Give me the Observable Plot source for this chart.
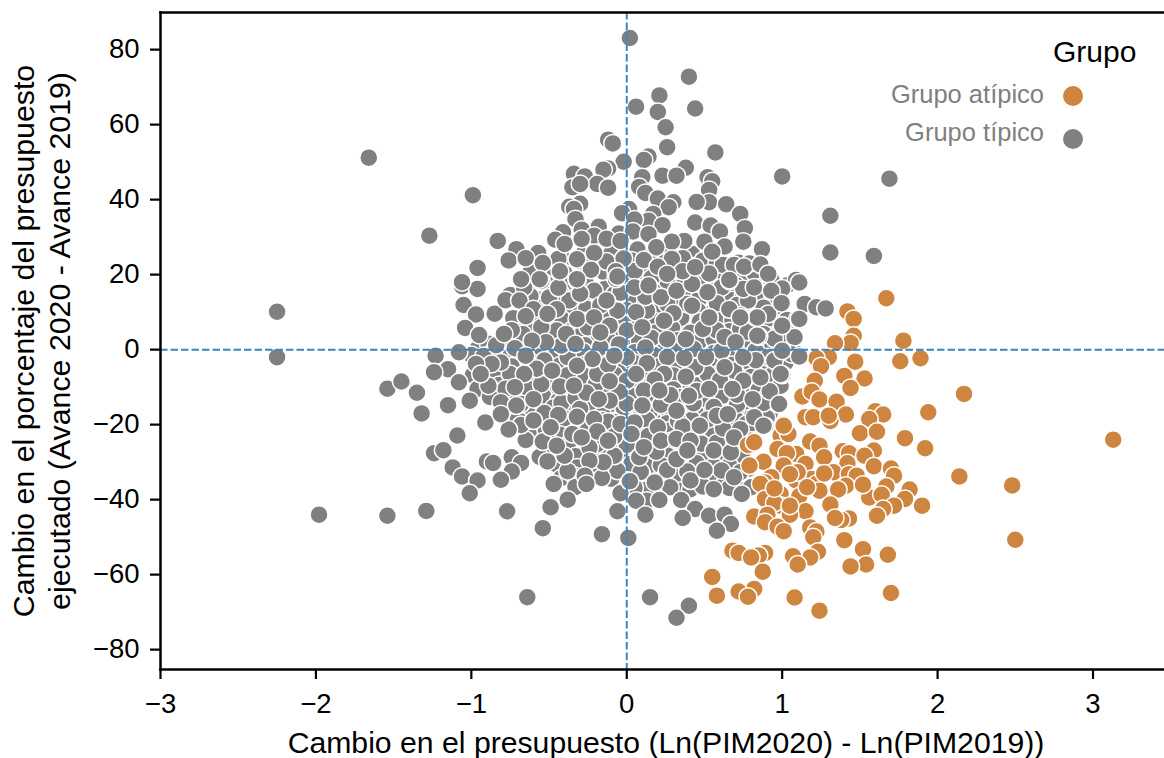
<!DOCTYPE html>
<html><head><meta charset="utf-8">
<script src="https://cdn.jsdelivr.net/npm/d3@7"></script>
<script src="https://cdn.jsdelivr.net/npm/@observablehq/plot@0.6"></script>
<style>
html,body{margin:0;padding:0;background:#fff;overflow:hidden}
#wrap{position:relative;width:1164px;height:758px;font-family:"Liberation Sans",Arial,sans-serif}
.lg{position:absolute;white-space:nowrap}
.lt{color:#7f7f7f;font-size:25.5px;right:120px}
.ld{width:20px;height:20px;border-radius:50%;left:1063px}
</style></head><body><div id="wrap"></div>
<script>
const groupNames = ["Grupo atípico", "Grupo típico"];
const groupColors = ["#cd853f", "#808080"];
const xLabel = "Cambio en el presupuesto (Ln(PIM2020) - Ln(PIM2019))";
const yLabel = "Cambio en el porcentaje del presupuesto\nejecutado (Avance 2020 - Avance 2019)";
const xTicks = [-3,-2,-1,0,1,2,3];
const yTicks = [-80,-60,-40,-20,0,20,40,60,80];

const tipicoExterior = [[-2.25,10.1],[-2.25,-2],[-1.66,51.2],[-1.54,-10.4],[-1.45,-8.5],[-1.35,-11.5],[-1.32,-17],[-1.98,-44],[-1.54,-44.3],[-1.29,-43],[-0.64,-66],[0.15,-66],[0.40,-68.3],[0.32,-71.5],[1.31,35.7],[1.69,45.6],[1.31,25.9],[1.59,25],[1.0,46.2],[1.11,17.9],[1.0,16.3],[0.93,15.7],[1.145,12.2],[1.22,11.3],[1.28,11],[1.11,8.2],[1.0,6.4],[0.996,12.4],[1.11,-1.8],[0.99,-6.5],[0.98,-14.5],[0.88,-20.3],[0.74,-38.5],[0.67,-46.5],[0.58,-48.3],[0.84,3.7],[0.84,8.6],[0.66,10.8],[0.53,8.6],[0.73,8.6]];

const tipicoSuperior = [[0.02,83.1],[0.40,72.8],[0.21,67.8],[0.06,64.8],[0.44,64.3],[0.20,63.4],[0.25,59.3],[-0.12,56],[-0.09,55],[0.26,54],[0.57,52.6],[0.14,51.5],[0.11,50.6],[-0.02,50.1],[0.38,48.5],[-0.12,48.3],[-0.15,48],[-0.34,46.9],[-0.27,46.2],[0.23,46.4],[0.32,46.4],[0.10,46],[0.52,46],[0.55,44.9],[-0.19,44.2],[-0.12,43.2],[-0.35,43.3],[-0.30,44.2],[0.08,43.4],[0.53,42.6],[0.12,41.8],[-0.99,41.2],[0.20,40.3],[0.53,39.3],[0.45,39.4],[0.30,39.3],[0.27,38],[0.64,38.8],[-0.30,38.9],[-0.37,38.1],[-0.34,37.5],[0.015,37.5],[-0.03,36.4],[0.73,36.2],[0.17,36.2],[0.14,34.4],[-0.33,34.8],[0.05,34.7],[0.44,33.9],[0.23,33.2],[0.54,33.1],[-0.18,32.8],[0.76,32.4],[0.60,31.5],[-0.29,32],[-0.41,31.3],[-0.05,31],[0.04,31.5],[0.14,30.8],[-1.27,30.4],[-0.21,30.4],[-0.13,29.6],[-0.83,29],[-0.46,29.3],[0.37,29],[0.29,28.8],[-0.04,29],[0.50,28.8],[0.75,28.8],[-0.40,28.2],[-0.29,29.5],[0.63,27.5],[-0.71,26.8],[0.87,26.8],[0.19,27.3],[0.55,26.1],[-0.21,25.8],[-0.57,25.8],[-0.76,23.8],[-0.65,24.4],[-0.32,24.1],[-0.02,24.3],[0.11,23.9],[0.36,24.4],[0.29,24.2],[-0.54,23.1],[0.69,22.6],[0.79,23],[0.755,22.1],[0.86,22.7],[-0.96,21.8],[-0.43,20.9],[-0.23,21.3],[0.20,22.1],[-0.07,20.9],[0.53,20.3],[0.36,20.9],[0.26,20.2],[0.44,22],[-0.68,18.8],[-0.56,18.8],[-0.32,18.8],[-1.06,18],[-0.06,19.5],[0.93,18.6],[1.09,18.6],[0.91,20.2],[0.66,18.6]];

const tipicoCentro = [[-1.06,16.9],[-0.96,16.2],[-1.05,11.9],[-0.97,9.4],[-1.04,5.8],[-0.95,3.9],[-0.78,13.2],[-0.66,16.6],[-0.69,13.1],[-0.60,10.8],[-0.55,18.4],[-0.44,16.5],[-0.32,18.4],[-0.30,14.9],[-0.45,10.8],[-0.65,8.9],[-0.74,5.2],[-0.79,4.2],[-0.51,9.5],[-0.32,8.2],[-0.21,8.6],[-0.13,13.1],[-0.07,18.9],[0.05,16.6],[0.22,14],[0.32,15.7],[0.14,17.1],[0.06,10],[-0.11,6.4],[-0.17,4.6],[-0.39,4.2],[-0.52,2],[-0.61,2.4],[-0.33,1.5],[0.24,7.7],[0.38,2.8],[0.42,11.7],[0.52,15.3],[0.53,8.6],[0.66,10.8],[0.82,16.6],[0.93,17.5],[1.03,17.1],[0.66,18.4],[0.42,17.5],[1.0,12.6],[0.73,9.1],[0.83,8.6],[0.85,3.5],[1.0,6.4],[1.10,8.2],[0.70,2],[0.49,5.5],[0.12,0.6],[0.10,6],[0.26,2.8],[-0.08,-1.6],[-0.22,-2.5],[-0.32,-4.3],[-0.48,-5.6],[-0.65,-1.6],[-0.81,-3.4],[-0.87,-3.8],[-0.97,-3.8],[-1.08,-0.7],[-1.23,-1.6],[-1.15,-5.2],[-1.24,-6],[-1.08,-8.7],[-1.44,-8.7],[-1.35,-11.4],[-1.15,-14.8],[-1.01,-13.6],[-1.32,-17.2],[-0.91,-19.4],[-1.09,-22.9],[-1.24,-27.6],[-1.18,-26.8],[-1.12,-31.4],[-1.06,-33.8],[-0.96,-34.9],[-1.01,-38.3],[-0.77,-43.1],[-0.90,-29.8],[-0.86,-30.2],[-0.74,-28.7],[-0.68,-30.2],[-0.74,-32.5],[-0.81,-34.7],[-0.51,-29.8],[-0.47,-35.8],[-0.38,-40],[-0.49,-42],[-0.54,-47.6],[-0.16,-49.2],[0.01,-50.2],[-0.06,-43.1],[-0.04,-38.3],[0.02,-35.1],[0.13,-40.3],[0.21,-40.1],[0.06,-40.3],[0.12,-44],[0.35,-40.1],[0.44,-42.5],[0.36,-44.9],[0.53,-44.3],[0.63,-44],[0.56,-37.2],[0.41,-34.9],[0.18,-35.4],[0.75,-38.5],[0.80,-36.7],[0.69,-34],[0.50,-32.1],[0.32,-29.2],[0.19,-27.2],[0.08,-28.7],[-0.08,-28.3],[-0.15,-30],[-0.24,-29.6],[-0.38,-32.4],[-0.27,-33.6],[-0.26,-35.8],[-0.40,-28.3],[-0.35,-22.5],[-0.54,-24.5],[-0.68,-20.1],[-0.76,-21.3],[-0.53,-16.9],[-0.44,-17.4],[-0.32,-17.9],[-0.21,-18.5],[-0.19,-21.8],[-0.04,-19.8],[0.05,-19.4],[0.03,-22.5],[0.20,-20.7],[0.47,-20.3],[0.56,-26.9],[0.67,-27.4],[0.58,-17.6],[0.73,-21.2],[0.89,-20.4],[0.82,-18],[0.98,-14.5],[0.92,-11.1],[1.0,-6.7],[0.81,-13.2],[0.75,-8.3],[0.86,-7.4],[0.63,-4.7],[0.83,-2.8],[0.95,-2.9],[1.06,-1.2],[1.0,-0.3],[0.75,-2],[0.51,-2],[0.37,-2.2],[0.13,-3.6],[0.06,-6.5],[-0.11,-8.4],[-0.26,-11.5],[-0.43,-9.8],[-0.66,-6.5],[-0.81,-14],[-0.71,-14.9],[-0.60,-13.2],[-0.11,-13.6],[-0.18,-13.2],[-0.34,-9.6],[0.11,-10.9],[0.21,-10.9],[0.10,-14.9],[0.32,-16.3],[0.40,-12.3],[0.53,-10.5],[0.38,-7.2],[0.68,-10.5],[0.22,-24.3],[0.32,-23.8],[0.41,-24.3],[0.65,-17.2],[0.69,-23.4],[0.39,-26.9],[-0.81,-17.2],[-0.89,-9.6],[-0.94,-6.5],[-0.72,-10],[-0.60,-18.9],[-0.49,-20.7],[-0.45,-25.6],[-0.29,-23.4],[-0.12,-24.3],[0.11,-26]];

const tipicoRelleno = [[-0.21,15.7],[-0.06,10.4],[0.26,18.4],[0.39,12.2],[0.61,16.6],[0.78,13.1],[0.91,9.5],[0.58,5.1],[0.26,12.2],[0.13,10.4],[0,5.1],[-0.25,6],[-0.45,5.1],[-0.55,6],[-0.67,4.2],[-0.17,0.6],[0,-2],[0.26,-2],[0.61,-0.3],[0.91,-2],[1.08,3.3],[-0.38,-2],[-0.53,-2.9],[-0.75,-6.5],[-0.55,-9.2],[-0.19,-6.5],[0,-8.3],[0.24,-6.5],[0.52,-6.5],[0.69,-5.6],[-0.68,-14.5],[-0.42,-14.2],[-0.25,-14.8],[0,-14.4],[0.22,-14.7],[0.43,-14.3],[0.71,-14.6],[0.88,-14.2],[-0.49,-18.9],[-0.12,-19.2],[0.13,-18.7],[0.33,-19],[0.52,-18.6],[-0.19,-25.2],[0,-25.4],[0.48,-25.1],[0.58,-24.8],[-0.06,-32.3],[0.09,-32.6],[0.26,-32.1],[0.39,-32.5],[0.61,-32.2],[0.73,-32.7],[0.28,-36.7],[0.49,-36.5],[0.66,-36.9],[0.05,-36.8],[-0.16,-34.2],[-0.33,-12.8],[-0.78,-10.4],[-0.92,-1.7],[-0.84,1.2],[-0.72,0.4],[-0.42,1.1],[-0.05,1.4],[0.16,3.1],[0.43,0.2],[0.63,3.4],[0.78,4.7],[0.95,2.9],[0.3,9.7],[0.12,14.1],[-0.04,15.2],[-0.17,11.8],[-0.37,13.1],[-0.5,13.9],[-0.62,14.3],[-0.85,9.6],[0.58,12.4],[0.48,17.4],[0.75,16.2],[-0.13,23.5],[0.05,21],[0.62,22.6],[0.16,19.1],[-0.44,24.2],[-0.12,-4],[0.18,-8],[0.44,-4.7],[0.6,-8.2],[0.71,-12],[0.45,-11],[0.28,-12.1],[-0.05,-11.2],[-0.38,-6.8],[-0.58,-5.1],[-0.3,-15.8],[-0.65,-24.1],[-0.56,-28.6],[-0.24,-26.1],[-0.08,-23.1],[0.14,-23],[0.62,-21],[0.36,-20.5],[0.8,-24.3]];

const tipicoFondo = [[-0.27,26.4],[-0.1,25.6],[0.07,26.7],[0.17,25.3],[0.27,26.1],[0.42,25.5],[0.6,26.6],
[-0.5,22.4],[-0.37,23.6],[-0.27,22.7],[-0.17,23.3],[-0.08,22.2],[0.03,23.8],[0.16,22.8],[0.25,23.4],[0.41,22.3],[0.49,23.7],[0.58,22.9],[0.72,23.2],
[-0.62,20.6],[-0.5,19.4],[-0.4,20.3],[-0.28,19.2],[-0.15,20.8],[-0.03,19.7],[0.1,20.4],[0.22,19.1],[0.31,20.6],[0.45,19.6],[0.6,20.2],[0.73,19.3],[0.82,20.5],
[-0.6,16.4],[-0.52,17.6],[-0.37,16.9],[-0.26,17.4],[-0.14,16.2],[-0.01,17.5],[0.09,16.3],[0.2,17.2],[0.35,16.7],[0.46,17.8],[0.57,16.1],[0.7,17.3],[0.86,16.6],
[-0.75,14.6],[-0.58,13.5],[-0.42,14.8],[-0.34,13.7],[-0.26,14.4],[-0.17,13.3],[-0.08,14.7],[0.03,13.6],[0.17,14.5],[0.29,13.4],[0.36,14.9],[0.47,13.8],[0.56,14.3],[0.68,13.2],[0.75,14.6],[0.85,13.9],[0.94,14.2],
[-0.63,10.6],[-0.53,11.7],[-0.42,10.4],[-0.34,11.3],[-0.26,10.9],[-0.1,11.8],[0,10.5],[0.11,11.4],[0.21,10.7],[0.33,11.6],[0.46,10.3],[0.6,11.1],[0.71,11.9],[0.8,10.6],[0.88,11.2],
[-0.73,8.4],[-0.58,7.4],[-0.42,8.2],[-0.27,7.6],[-0.14,8.7],[-0.04,7.3],[0.06,8.1],[0.17,7.7],[0.35,8.5],[0.47,7.5],[0.6,8.3],[0.68,7.8],[0.78,7.2],[0.92,8.4],[1.03,7.9],
[-0.7,4.7],[-0.62,5.6],[-0.5,4.4],[-0.35,5.3],[-0.28,4.8],[-0.19,5.7],[-0.07,4.3],[0.05,5.4],[0.19,4.6],[0.29,5.8],[0.41,4.5],[0.53,5.2],[0.66,4.9],[0.73,5.5],[0.88,4.2],[1.02,5.1],
[-0.89,1.6],[-0.78,2.4],[-0.66,1.3],[-0.56,2.7],[-0.46,1.8],[-0.38,2.2],[-0.27,1.2],[-0.12,2.6],[-0.02,1.7],[0.08,2.3],[0.2,1.4],[0.33,2.5],[0.46,1.9],[0.56,2.8],[0.66,1.5],[0.8,2.1],[0.92,1.1],[1.04,2.4],
[-1.0,-1.4],[-0.86,-0.6],[-0.75,-1.8],[-0.57,-0.8],[-0.45,-1.2],[-0.28,-0.5],[-0.14,-1.6],[0.05,-0.7],[0.17,-1.3],[0.32,-0.4],[0.46,-1.7],[0.56,-0.9],[0.67,-1.1],[0.83,-0.3],[0.97,-1.5],[1.08,-0.8],
[-0.92,-3.6],[-0.74,-4.5],[-0.62,-3.3],[-0.43,-4.2],[-0.26,-3.8],[-0.05,-4.7],[0.04,-3.4],[0.21,-4.4],[0.31,-3.7],[0.42,-4.6],[0.58,-3.2],[0.68,-4.1],[0.8,-3.9],[0.92,-4.8],[1.02,-3.5],
[-0.99,-6.8],[-0.85,-7.6],[-0.52,-6.4],[-0.45,-7.7],[-0.27,-7.1],[-0.08,-6.6],[0.12,-7.5],[0.3,-6.9],[0.45,-7.8],[0.6,-6.3],[0.8,-7.3],[0.94,-6.7],
[-0.96,-10.5],[-0.82,-9.4],[-0.64,-10.2],[-0.5,-9.7],[-0.37,-10.8],[-0.2,-9.3],[-0.03,-10.4],[0.15,-9.8],[0.3,-10.6],[0.46,-9.5],[0.6,-10.1],[0.78,-9.9],[0.85,-10.7],[0.99,-9.6],
[-0.88,-12.6],[-0.75,-13.4],[-0.54,-12.3],[-0.44,-13.7],[-0.28,-12.9],[-0.06,-13.3],[0.04,-12.4],[0.16,-13.6],[0.34,-12.7],[0.48,-13.2],[0.62,-12.2],[0.76,-13.8],[0.9,-12.8],
[-0.75,-15.6],[-0.64,-16.7],[-0.47,-15.4],[-0.38,-16.2],[-0.25,-15.7],[-0.16,-16.8],[-0.02,-15.5],[0.15,-16.4],[0.26,-15.9],[0.44,-16.6],[0.56,-15.3],[0.7,-16.1],[0.85,-15.8],[0.92,-16.9],
[-0.7,-18.6],[-0.55,-19.4],[-0.4,-18.3],[-0.3,-19.7],[-0.16,-18.8],[-0.08,-19.3],[0.08,-18.4],[0.26,-19.6],[0.42,-18.7],[0.6,-19.2],[0.7,-18.5],[0.77,-19.8],[0.9,-18.2],
[-0.62,-22.4],[-0.52,-21.6],[-0.43,-22.7],[-0.25,-21.3],[-0.09,-22.2],[0.08,-21.8],[0.15,-22.8],[0.28,-21.5],[0.46,-22.3],[0.55,-21.4],[0.66,-22.6],[0.8,-21.7],
[-0.5,-24.6],[-0.38,-25.4],[-0.24,-24.3],[-0.05,-25.7],[0.06,-24.8],[0.16,-25.2],[0.28,-24.4],[0.44,-25.6],[0.64,-24.7],[0.73,-25.1],[0.82,-24.2],
[-0.5,-27.6],[-0.33,-28.4],[-0.18,-27.3],[-0.03,-28.7],[0.14,-27.8],[0.26,-28.2],[0.45,-27.4],[0.5,-28.6],[0.62,-27.7],[0.74,-28.1],
[-0.45,-30.6],[-0.32,-31.4],[-0.2,-30.7],[-0.03,-31.7],[0.03,-30.4],[0.13,-31.2],[0.22,-30.8],[0.34,-31.6],[0.45,-30.3],[0.56,-31.1],[0.66,-30.9],[0.78,-31.8],
[-0.42,-34.2],[-0.34,-33.6],[-0.2,-33.9],[-0.1,-34.4],[0.1,-33.5],[0.24,-34.3],[0.33,-33.7],[0.47,-34.1],[0.56,-33.8],[0.64,-34.6],
[-0.33,-36.6],[0.12,-37.4],[0.24,-36.9],[0.35,-37.6],[0.41,-37.2],[0.62,-36.4],[0.72,-37.1]];

const tipicoBase = [[-0.55,12.6],[-0.31,12.2],[-0.05,12.8],[0.19,12.4],[0.43,13],[0.66,12.3],[0.9,12.7],
[-0.48,9.3],[-0.2,9.8],[0.02,9.2],[0.26,9.6],[0.52,9.4],[0.76,9.9],[0.96,9.1],
[-0.63,6.6],[-0.4,6.2],[-0.13,6.8],[0.1,6.3],[0.34,6.7],[0.55,6.1],[0.82,6.5],[1.0,6.9],
[-0.72,3.4],[-0.44,3.1],[-0.23,3.7],[0.03,3.2],[0.25,3.6],[0.5,3.3],[0.72,3.8],[0.98,3.5],
[-0.96,0.2],[-0.7,-0.6],[-0.5,0.7],[-0.33,-0.2],[-0.08,0.5],[0.1,-0.4],[0.38,0.6],[0.62,0.3],[0.76,-0.5],[1.02,0.4],
[-0.8,-2.6],[-0.56,-2.2],[-0.34,-2.8],[-0.15,-2.4],[0.09,-2.7],[0.36,-2.3],[0.52,-2.9],[0.74,-2.5],[0.98,-2.2],
[-0.92,-5.4],[-0.71,-5.7],[-0.44,-5.2],[-0.2,-5.6],[0.02,-5.3],[0.25,-5.8],[0.5,-5.5],[0.72,-5.9],[1.0,-5.1],
[-0.88,-8.3],[-0.62,-8.7],[-0.33,-8.1],[-0.13,-8.8],[0.08,-8.4],[0.36,-8.6],[0.54,-8.2],[0.7,-8.9],[0.9,-8.5],
[-0.78,-11.6],[-0.56,-11.3],[-0.32,-11.8],[-0.1,-11.4],[0.1,-11.7],[0.36,-11.5],[0.55,-11.9],[0.82,-11.2],
[-0.6,-14.8],[-0.35,-14.4],[-0.12,-14.9],[0.09,-14.5],[0.3,-14.7],[0.52,-14.3],[0.8,-14.6],
[-0.57,-17.6],[-0.22,-17.2],[0.02,-17.7],[0.2,-17.3],[0.36,-17.8],[0.5,-17.4],[0.78,-17.5],
[-0.48,-20.3],[-0.22,-20.6],[-0.02,-20.2],[0.18,-20.7],[0.4,-20.4],[0.7,-20.8],
[-0.33,-23.3],[-0.15,-23.6],[0.01,-23.2],[0.36,-23.5],[0.52,-23.7],[0.76,-23.4],
[-0.42,-26.4],[-0.18,-26.7],[0.02,-26.3],[0.22,-26.6],[0.5,-26.8],[0.76,-26.2],
[-0.25,-31.9],[0.18,-33.1],[0.55,-29.4],[0.3,-30.1],[-0.12,-29.6],[0.68,-29.2]];

const atipico = [[1.67,13.7],[1.42,10.2],[1.46,8.2],[1.46,3.7],[1.44,1.8],[1.34,1.7],[1.78,2.4],[1.76,-3.1],[1.89,-2.3],[1.30,-2],[1.22,-2.3],[1.25,-4.4],[1.47,-3.2],[1.40,-7],[1.53,-7.7],[1.21,-8.3],[1.44,-10.2],[1.13,-12.5],[1.19,-11.2],[1.24,-13.3],[1.35,-13.9],[2.17,-11.8],[1.41,-17.3],[1.15,-18],[1.20,-18],[1.31,-19],[1.30,-17.6],[1.94,-16.7],[1.60,-16.4],[1.65,-17.3],[1.56,-18.5],[1.50,-22.3],[1.61,-21.9],[1.79,-23.6],[0.99,-22.9],[1.04,-22.5],[1.01,-20.3],[1.92,-26.3],[0.78,-25.4],[0.82,-24.7],[0.97,-26.5],[1.18,-24.5],[1.24,-25.6],[1.27,-28.7],[1.59,-26.9],[1.39,-27.1],[1.43,-27.6],[1.53,-28.3],[1.09,-27.8],[1.03,-27.6],[0.88,-29.9],[0.79,-30.9],[1.01,-30.9],[1.15,-30.5],[1.42,-30.3],[1.59,-31.1],[1.70,-31.7],[1.72,-33.6],[2.14,-33.8],[1.33,-32.7],[1.43,-33.2],[1.48,-33.6],[1.19,-34.5],[0.93,-34],[0.89,-35.4],[0.86,-35.8],[1.09,-34.9],[1.22,-35.8],[1.24,-37.6],[1.41,-36.3],[1.36,-37.3],[1.67,-36.5],[1.82,-37.3],[0.99,-38.5],[1.11,-39.1],[0.89,-39.8],[1.56,-39.4],[1.64,-38.7],[1.79,-39.8],[1.90,-41.6],[1.72,-41.6],[1.31,-41.3],[0.99,-41.6],[0.95,-40.9],[1.65,-42.5],[1.61,-44.3],[1.15,-43.1],[1.05,-44],[0.82,-44.5],[0.905,-44],[0.89,-46],[1.43,-45],[1.38,-45.4],[1.34,-44.9],[0.97,-47.2],[1.01,-48.4],[1.18,-47.4],[1.22,-48.5],[1.20,-50],[1.40,-50.8],[1.52,-53.2],[0.68,-53.6],[0.72,-54.2],[0.89,-54.2],[0.85,-54.9],[0.80,-55.4],[1.23,-53.9],[1.18,-55.4],[1.07,-55.1],[1.10,-57.3],[1.68,-54.7],[1.54,-57.3],[1.44,-57.8],[0.875,-59.2],[0.55,-60.6],[0.82,-63.8],[0.72,-64.5],[0.58,-65.6],[0.78,-65.9],[1.08,-66.1],[1.70,-64.9],[1.24,-69.6],[3.13,-24],[2.48,-36.2],[2.50,-50.7],[1.10,-32.7],[1.16,-36.7],[1.05,-33.2],[1.27,-33],[0.95,-37],[1.05,-41.6],[1.52,-36]];

const toRows = (pts, group) => pts.map(([x, y]) => ({x, y, group}));
const rows = [
  ...toRows(tipicoBase, groupNames[1]),
  ...toRows(tipicoFondo, groupNames[1]),
  ...toRows(tipicoRelleno, groupNames[1]),
  ...toRows(tipicoCentro, groupNames[1]),
  ...toRows(tipicoSuperior, groupNames[1]),
  ...toRows(atipico, groupNames[0]),
  ...toRows(tipicoExterior, groupNames[1])
];

const minus = d => String(d).replace("-", "\u2212");
const chart = Plot.plot({
  width: 1164, height: 758,
  marginLeft: 160, marginRight: 0, marginTop: 12, marginBottom: 89,
  style: {fontFamily: '"Liberation Sans",Arial,sans-serif', background: "#fff", overflow: "visible"},
  x: {domain: [-3, 3.46]},
  y: {domain: [-85.3, 89.9]},
  color: {domain: groupNames, range: groupColors},
  marks: [
    Plot.dot(rows, {x: "x", y: "y", fill: "group", r: 9, stroke: "#fff", strokeWidth: 1.5}),
    Plot.ruleX([0], {stroke: "#3a86c4", strokeWidth: 2, strokeDasharray: "7.5,3"}),
    Plot.ruleY([0], {stroke: "#3a86c4", strokeWidth: 2, strokeDasharray: "7.5,3"}),
    Plot.frame({anchor: "left", stroke: "#000", strokeWidth: 2.5}),
    Plot.frame({anchor: "top", stroke: "#000", strokeWidth: 2.5}),
    Plot.frame({anchor: "bottom", stroke: "#000", strokeWidth: 2.5}),
    Plot.axisX({ticks: xTicks, tickFormat: minus, tickSize: 10, tickPadding: 14, fontSize: 27.5, strokeWidth: 2.2, label: null, color: "#000"}),
    Plot.axisY({ticks: yTicks, tickFormat: minus, tickSize: 10, tickPadding: 11, fontSize: 27.5, strokeWidth: 2.2, label: null, color: "#000"}),
    Plot.text([xLabel], {frameAnchor: "bottom", dx: 3.5, dy: 74, lineAnchor: "middle", fontSize: 30.2, fill: "#000"}),
    Plot.text([yLabel], {frameAnchor: "left", dx: -120, rotate: -90, fontSize: 30.3, fill: "#000", lineHeight: 1.2, textAnchor: "middle"})
  ]
});
const wrap = document.getElementById("wrap");
wrap.appendChild(chart);
const legend = [
  ["Grupo", "lg", "left:1053px;top:35px;font-size:30px;color:#000"],
  [groupNames[0], "lg lt", "top:80px"],
  [groupNames[1], "lg lt", "top:118px"],
  ["", "lg ld", "top:86px;background:" + groupColors[0]],
  ["", "lg ld", "top:129px;background:" + groupColors[1]]
];
for (const [t, c, s] of legend) {
  const d = document.createElement("div");
  d.className = c; d.style.cssText = s; d.textContent = t;
  wrap.appendChild(d);
}
</script></body></html>
